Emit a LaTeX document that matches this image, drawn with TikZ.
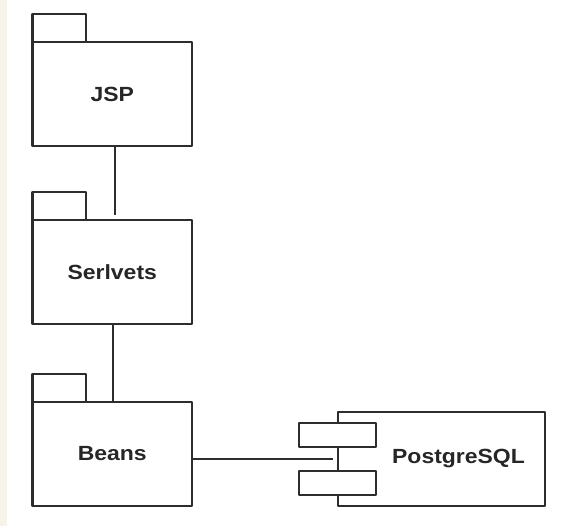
\documentclass[tikz,border=0pt]{standalone}
\usepackage{fontspec}
\setmainfont{Liberation Sans}
\definecolor{strip}{RGB}{246,243,235}
\definecolor{ink}{RGB}{45,45,45}
\newcommand{\lbltext}[1]{\scalebox{1.12}[1]{\fontsize{20.5}{24}\selectfont\bfseries #1}}
\begin{document}
\begin{tikzpicture}[x=1pt,y=-1pt,
  line width=2.1pt,
  conn/.style={draw=ink},
  pkgbody/.style={draw=ink, rectangle, minimum width=159.5pt, minimum height=104pt, inner sep=0pt, outer sep=0pt, text=black!85, line join=round},
  pkgtab/.style={draw=ink, line join=round},
  compbody/.style={draw=ink, rectangle, minimum width=206.7pt, minimum height=94.3pt, inner sep=0pt, outer sep=0pt, line join=round},
  port/.style={draw=ink, fill=white, rectangle, minimum width=76.7pt, minimum height=24pt, inner sep=0pt, outer sep=0pt, line join=round},
  lbl/.style={text=black!85, inner sep=0pt}
]
\useasboundingbox (0,0) rectangle (578,526);
\fill[strip] (0,0) rectangle (7,526);

% packages
\node[pkgbody] (jsp) at (112.25,94) {\lbltext{JSP}};
\draw[pkgtab] (jsp.north west) rectangle ++(53.5,-28);

\node[pkgbody] (srv) at (112.25,272.2) {\lbltext{Serlvets}};
\draw[pkgtab] (srv.north west) rectangle ++(53.5,-28);

\node[pkgbody] (beans) at (112.25,453.7) {\lbltext{Beans}};
\draw[pkgtab] (beans.north west) rectangle ++(53.5,-28);

% component
\node[compbody] (pg) at (441.7,458.9) {};
\node[port] (port1) at (337.7,435.3) {};
\node[port] (port2) at (337.7,483) {};
\node[lbl] (pglabel) at (458.5,458.5) {\lbltext{PostgreSQL}};

% connectors
\draw[conn] ([xshift=2.5pt]jsp.south) -- ([xshift=2.5pt,yshift=5pt]srv.north);
\draw[conn] ([xshift=0.8pt]srv.south) -- ([xshift=0.8pt]beans.north);
\coordinate (pgend) at (332.7,459);
\draw[conn] (beans.east |- pgend) -- (pgend);
\end{tikzpicture}
\end{document}
